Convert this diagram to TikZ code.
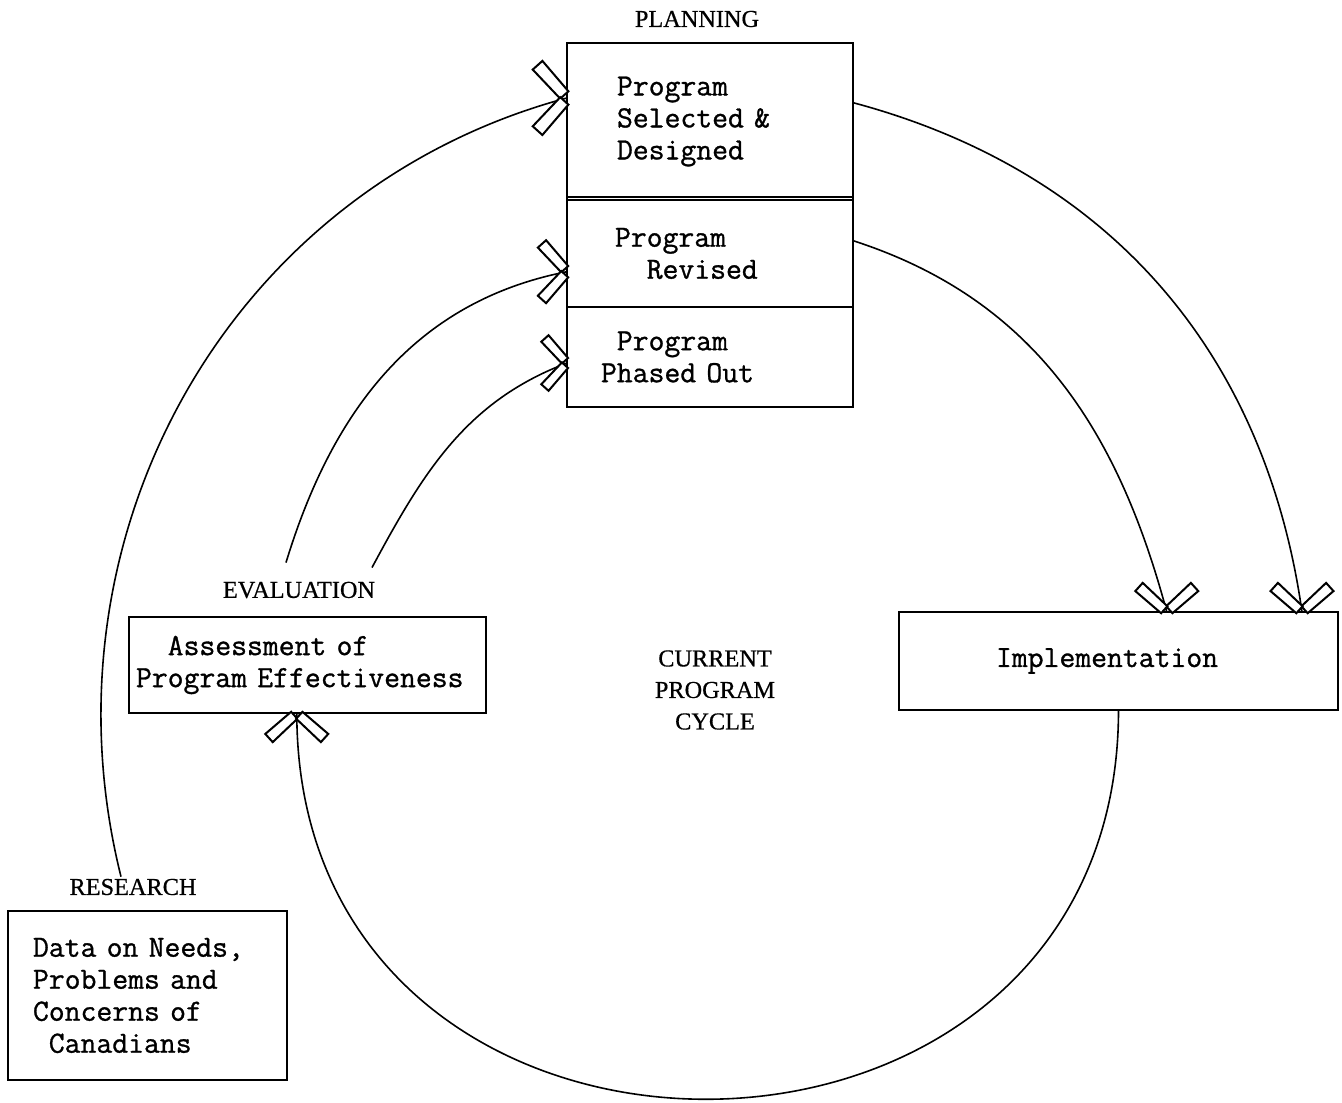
\documentclass[tikz,border=0pt]{standalone}
\usepackage{fontspec}
\usetikzlibrary{calc, positioning}
\newfontfamily\headfont{Liberation Serif}[FakeBold=0.6]
\newfontfamily\typefont{Latin Modern Mono}[FakeBold=1]
% typewriter face, with a full-width space
\protected\def\typedfont{\typefont\fontsize{30.8}{32}\selectfont
    \fontdimen2\font=\fontcharwd\font`x\relax}

\begin{document}
\begin{tikzpicture}[x=1pt, y=-1pt,
    typed/.style={font=\typedfont},
    heading/.style={font=\headfont\fontsize{24.3}{31.5}\selectfont, inner sep=2pt},
    box/.style={draw, line width=2.4pt, outer sep=0pt, typed, align=left, inner ysep=0pt},
    link/.style={line width=1.6pt},
    % open chevron, tip at the origin, pointing along +x
    chev/.pic={
        \foreach \a in {132,-132} {
            \draw[line width=2pt, fill=white, rotate=\a]
                (4,-5.5) -- (44,-6.5) -- (44,6.5) -- (4,5.5) -- cycle;
        }
    }
]

\useasboundingbox (0,0) rectangle (1342,1103);

% --- PLANNING ---
\node[heading] (planlbl) at (697,19) {PLANNING};
\node[box, minimum height=157pt, text width=186pt, inner xsep=50pt] (sel) at (710,121.5)
    {Program\\Selected \&\\Designed};
\node[box, minimum height=107pt, text width=190pt, inner xsep=48pt, below=0pt of sel] (rev)
    {Program\\\phantom{xx}Revised};
\node[box, minimum height=100pt, text width=218pt, inner xsep=34pt, below=0pt of rev] (out)
    {\phantom{x}Program\\Phased Out};
\draw[line width=1.6pt] ([yshift=3pt]sel.south west) -- ([yshift=3pt]sel.south east);

% --- IMPLEMENTATION ---
\node[box, minimum height=98pt, text width=245pt, inner xsep=97pt] (impl) at (1118.5,661)
    {Implementation};

% --- EVALUATION ---
\node[heading] (evallbl) at (299,590) {EVALUATION};
\node[box, minimum height=96pt, text width=343pt, inner xsep=7pt] (evalbox) at (307.5,665)
    {\phantom{xx}Assessment of\\Program Effectiveness};

% --- RESEARCH ---
\node[heading] (reslbl) at (133,887) {RESEARCH};
\node[box, minimum height=169pt, text width=229pt, inner xsep=25pt] (res) at (147.5,995.5)
    {Data on Needs,\\Problems and\\Concerns of\\\phantom{x}Canadians};

% --- CENTRE ---
\node[heading, align=center] (cycle) at (715,690) {CURRENT\\PROGRAM\\CYCLE};

% --- ARROW ENDS ---
\coordinate (selin)  at ($(sel.north west)!0.35!(sel.south west)$);
\coordinate (revin)  at ($(rev.north west)!0.67!(rev.south west)$);
\coordinate (outin)  at ($(out.north west)!0.56!(out.south west)$);
\coordinate (implin) at ($(impl.north west)!0.61!(impl.north east)$);
\coordinate (implin2) at ($(impl.north west)!0.918!(impl.north east)$);
\coordinate (evalin) at ($(evalbox.south west)!0.47!(evalbox.south east)$);

% --- LINKS ---
\draw[link] ([xshift=-12pt]reslbl.north) .. controls +(-85,-340) and +(-339,91) .. (selin);
\draw[link] ([shift={(-13pt,17pt)}]evallbl.north) .. controls +(46,-151) and +(-153,30) .. (revin);
\draw[link] ([shift={(73pt,12pt)}]evallbl.north) .. controls +(52,-97) and +(-100,38) .. (outin);
\draw[link] ($(sel.north east)!0.38!(sel.south east)$) .. controls +(255,68) and +(-37,-261) .. (implin2);
\draw[link] ($(rev.north east)!0.38!(rev.south east)$) .. controls +(180,58) and +(-49,-183) .. (implin);
\draw[link] (impl.south) .. controls +(0,517) and +(0,517) .. (evalin);

% --- TIPS ---
\pic at (selin) {chev};
\pic[scale=0.85] at (revin) {chev};
\pic[scale=0.75] at (outin) {chev};
\pic[rotate=-90, scale=0.85] at (implin) {chev};
\pic[rotate=-90, scale=0.85] at (implin2) {chev};
\pic[rotate=90, scale=0.85] at (evalin) {chev};

\end{tikzpicture}
\end{document}
